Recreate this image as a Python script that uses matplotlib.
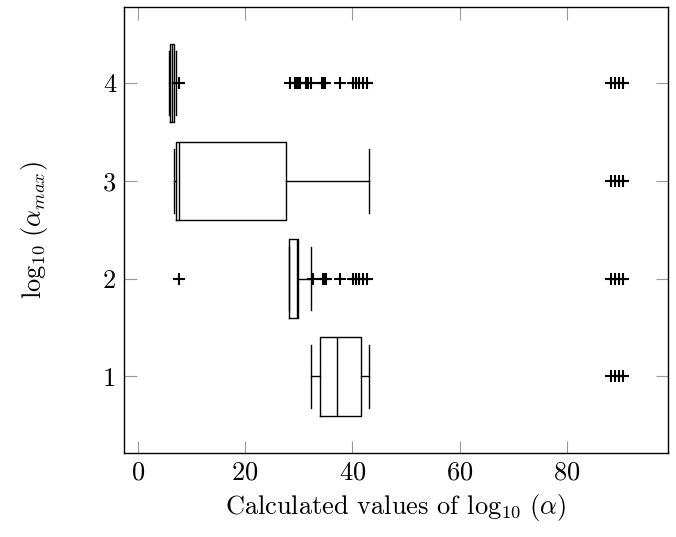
import matplotlib

matplotlib.use("Agg")
import matplotlib.pyplot as plt

plt.rcParams["font.family"] = "serif"
plt.rcParams["font.serif"] = ["cmr10", "DejaVu Serif"]
plt.rcParams["mathtext.fontset"] = "cm"
plt.rcParams["axes.formatter.use_mathtext"] = True

# log10(alpha_max) levels and box statistics
levels = [1, 2, 3, 4]
q1 = [33.9, 28.2, 7.2, 6.0]
median = [37.1, 29.7, 7.7, 6.4]
q3 = [41.6, 29.9, 27.7, 6.8]
whisker_low = [32.3, 28.2, 6.7, 5.9]
whisker_high = [43.0, 32.2, 43.0, 7.2]

far_outliers = [88.2, 89.0, 89.7, 90.5]
outliers_1 = far_outliers
outliers_2 = [7.6, 32.7, 34.6, 34.9, 35.1, 37.7, 40.2, 40.7, 41.3, 41.9, 42.7] + far_outliers
outliers_3 = far_outliers
outliers_4 = [7.6, 28.4, 29.3, 29.6, 30.0, 30.3, 31.3, 31.8, 32.2, 34.3, 34.6, 34.9,
              37.7, 40.2, 40.7, 41.3, 41.9, 42.7] + far_outliers
outliers = [outliers_1, outliers_2, outliers_3, outliers_4]

x_ticks = [0, 20, 40, 60, 80]

stats = []
for i in range(len(levels)):
    stats.append({
        "med": median[i],
        "q1": q1[i],
        "q3": q3[i],
        "whislo": whisker_low[i],
        "whishi": whisker_high[i],
        "fliers": outliers[i],
    })

fig = plt.figure(figsize=(6.76, 5.37), dpi=100)
ax = fig.add_axes([0.184, 0.157, 0.804, 0.8305])

line = dict(color="black", linewidth=1.0)
ax.bxp(
    stats,
    positions=levels,
    orientation="horizontal",
    widths=0.8,
    capwidths=0.65,
    boxprops=line,
    medianprops=line,
    whiskerprops=line,
    capprops=line,
    flierprops=dict(marker="+", markersize=9, markeredgewidth=1.5,
                    markeredgecolor="black", linestyle="none"),
)

ax.set_xlim(-2.5, 98.8)
ax.set_ylim(0.22, 4.78)
ax.set_xticks(x_ticks)
ax.set_yticks(levels)
ax.set_yticklabels([str(v) for v in levels])
ax.tick_params(direction="in", length=9, width=0.8, color="#999999",
               labelsize=19, top=True, right=True, pad=6)
for s in ax.spines.values():
    s.set_linewidth(1.0)

ax.set_xlabel(r"Calculated values of $\log_{10}\,(\alpha)$", fontsize=19, labelpad=5)
ax.set_ylabel(r"$\log_{10}\,(\alpha_{max})$", fontsize=19, labelpad=38)

fig.savefig("out.png", dpi=100)
